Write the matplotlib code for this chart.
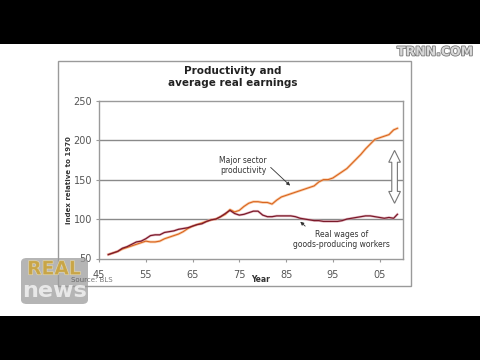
import numpy as np
import matplotlib
matplotlib.use("Agg")
import matplotlib.pyplot as plt
from matplotlib.patches import Rectangle, FancyBboxPatch, Polygon
import matplotlib.patheffects as pe

# data (index, 1970 = 100)
years = list(range(1947, 2009)) + [2008.8]
productivity = [55, 57, 59, 62, 64, 66, 68, 70, 72, 71, 71, 72, 75, 77, 79, 81, 84, 88,
                91, 93, 95, 97, 99, 100, 103, 106, 112, 109, 111, 116, 120, 122, 122,
                121, 121, 119, 124, 128, 130, 132, 134, 136, 138, 140, 142, 147, 150,
                150, 152, 156, 160, 164, 170, 176, 182, 189, 195, 201, 203, 205, 207,
                213, 215]
wages = [55, 57, 59, 63, 65, 68, 71, 72, 75, 79, 80, 80, 83, 84, 85, 87, 88, 89,
         91, 93, 94, 97, 99, 100, 103, 107, 111, 107, 105, 106, 108, 110, 110,
         105, 103, 103, 104, 104, 104, 104, 103, 101, 100, 99, 98, 98, 97, 97,
         97, 97, 98, 100, 101, 102, 103, 104, 104, 103, 102, 101, 102, 101, 106]

xticks = [1945, 1955, 1965, 1975, 1985, 1995, 2005]
xtick_labels = ["45", "55", "65", "75", "85", "95", "05"]
yticks = [50, 100, 150, 200, 250]

fig = plt.figure(figsize=(4.8, 3.6), dpi=100, facecolor="black")

# white frame of the video still
fig.patches.append(Rectangle((0, 44 / 360), 1, 272 / 360, transform=fig.transFigure,
                             facecolor="white", edgecolor="none", zorder=-10))
# grey box around the chart
fig.patches.append(Rectangle((58 / 480, 1 - 286 / 360), 353 / 480, 225 / 360,
                             transform=fig.transFigure, facecolor="none",
                             edgecolor="#9a9a9a", lw=1.0, zorder=-5))

ax = fig.add_axes([99 / 480, 1 - 258.5 / 360, 304 / 480, 157.8 / 360])
ax.set_facecolor("white")
ax.set_xlim(1945, 2010)
ax.set_ylim(50, 250)
for s in ax.spines.values():
    s.set_color("#9a9a9a")
    s.set_linewidth(1.0)
for v in [100, 150, 200]:
    ax.axhline(v, color="#8a8a8a", lw=1.0, zorder=1)

ax.set_xticks(xticks)
ax.set_xticklabels(xtick_labels)
ax.set_yticks(yticks)
ax.tick_params(labelsize=7, colors="#9a9a9a", labelcolor="#555555", length=2)
ax.tick_params(axis="x", pad=6)
ax.tick_params(axis="y", pad=3)

# halo + core lines
ax.plot(years, productivity, color="#f8b886", lw=1.9, alpha=0.7, zorder=2)
ax.plot(years, productivity, color="#d9651f", lw=0.8, zorder=3)
ax.plot(years, wages, color="#d890a0", lw=1.8, alpha=0.6, zorder=2)
ax.plot(years, wages, color="#7a1a2a", lw=0.9, zorder=3)

ax.text(0.44, 1.15, "Productivity and\naverage real earnings", transform=ax.transAxes,
        ha="center", va="center", fontsize=7.5, fontweight="bold", color="#222222",
        linespacing=1.25)
ax.set_ylabel("index relative to 1970", fontsize=5, fontweight="bold", color="#333333",
              labelpad=1)
ax.text(0.53, -0.135, "Year", transform=ax.transAxes, ha="center", va="center",
        fontsize=5.5, fontweight="bold", color="#333333")

ax.annotate("Major sector\nproductivity", xy=(1986.3, 140), xytext=(1975.8, 167.5),
            ha="center", va="center", fontsize=5.5, color="#333333",
            arrowprops=dict(arrowstyle="-|>", color="#333333", lw=0.6,
                            mutation_scale=5, shrinkA=1, relpos=(1.0, 0.6)))
ax.annotate("Real wages of\ngoods-producing workers", xy=(1987.6, 99), xytext=(1996.8, 74),
            ha="center", va="center", fontsize=5.5, color="#333333",
            arrowprops=dict(arrowstyle="-|>", color="#333333", lw=0.6,
                            mutation_scale=5, shrinkA=1, relpos=(0.17, 1.0)))

# hollow double-headed arrow showing the gap
cx, lo, hi = 2008.2, 120, 187
sw, hw, hl = 0.6, 1.25, 15
arrow = [(cx, hi), (cx + hw, hi - hl), (cx + sw, hi - hl), (cx + sw, lo + hl),
         (cx + hw, lo + hl), (cx, lo), (cx - hw, lo + hl), (cx - sw, lo + hl),
         (cx - sw, hi - hl), (cx - hw, hi - hl)]
ax.add_patch(Polygon(arrow, closed=True, facecolor="white", edgecolor="#777777",
                     lw=0.8, zorder=4))

# channel watermarks (semi-transparent logo over the source note, as in the still)
fig.text(435 / 480, 1 - 52 / 360, "TRNN.COM", ha="center", va="center", fontsize=9,
         fontweight="bold", color="#d8d8d8",
         path_effects=[pe.withStroke(linewidth=1.2, foreground="#7a7a7a")])
fig.patches.append(FancyBboxPatch((21 / 480, 1 - 304 / 360), 67 / 480, 46 / 360,
                                  boxstyle="round,pad=0,rounding_size=0.012",
                                  transform=fig.transFigure, facecolor="#9c9c9c",
                                  edgecolor="none", alpha=0.75, zorder=5))
fig.text(54 / 480, 1 - 269 / 360, "REAL", ha="center", va="center", fontsize=13.5,
         fontweight="bold", color="#c9a545", alpha=0.85, zorder=6,
         path_effects=[pe.withStroke(linewidth=0.8, foreground="#e8e0c0")])
fig.text(54 / 480, 1 - 291 / 360, "news", ha="center", va="center", fontsize=16,
         fontweight="bold", color="#eeeeee", alpha=0.9, zorder=6)
fig.text(71 / 480, 1 - 280 / 360, "Source: BLS", ha="left", va="center",
         fontsize=5, color="#555555", alpha=0.8, zorder=7)

fig.savefig("out.png", dpi=100, facecolor="black")
